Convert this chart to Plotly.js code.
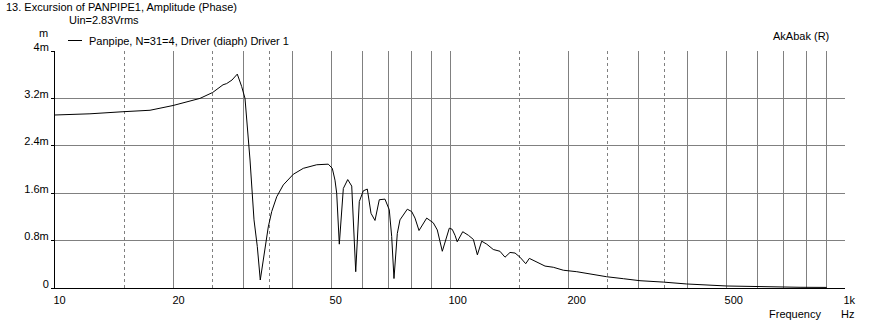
<!DOCTYPE html>
<html>
<head>
<meta charset="utf-8">
<script src="https://cdn.plot.ly/plotly-3.0.1.min.js"></script>
<style>html,body{margin:0;padding:0;background:#fff;}#chart{width:872px;height:326px;}</style>
</head>
<body>
<div id="chart"></div>
<script>
// Frequency (Hz)
const freq = [10.0, 12.26, 14.86, 17.4, 19.9, 23.28, 25.07, 26.63, 27.2, 28.06, 28.94, 29.69, 30.27,
  31.17, 31.9, 32.52, 33.09, 33.81, 34.67, 35.37, 36.42, 37.84, 40.12, 42.53, 45.98, 49.18,
  50.35, 51.15, 51.66, 52.45, 53.7, 55.09, 56.39, 57.72, 58.94, 60.33, 61.75, 63.1, 64.58,
  66.22, 68.45, 70.19, 71.18, 72.14, 73.55, 74.71, 77.97, 79.99, 81.55, 83.47, 87.3, 90.72,
  92.86, 95.61, 99.59, 101.3, 102.96, 104.3, 107.7, 111.3, 114.6, 117.3, 120.3, 123.9, 128.7,
  133.8, 137.8, 141.9, 146.1, 150.4, 155.5, 158.8, 165.8, 174.0, 182.6, 193.6, 209.4, 226.2,
  249.3, 274.7, 302.7, 346.7, 397.4, 501.7, 645.8, 769.4, 898.8];
// Excursion (mm)
const excursion = [2.92, 2.94, 2.975, 3.0, 3.08, 3.2, 3.3, 3.43, 3.45, 3.51, 3.61, 3.40, 3.20,
  2.16, 1.15, 0.70, 0.135, 0.59, 1.03, 1.29, 1.54, 1.74, 1.92, 2.02, 2.08, 2.09,
  2.02, 1.82, 1.60, 0.74, 1.68, 1.83, 1.72, 0.275, 1.46, 1.64, 1.67, 1.26, 1.14,
  1.49, 1.50, 1.32, 0.87, 0.16, 0.92, 1.15, 1.33, 1.29, 1.18, 0.97, 1.18, 1.10,
  0.98, 0.62, 1.01, 0.99, 0.89, 0.78, 0.95, 0.89, 0.82, 0.56, 0.79, 0.74, 0.65,
  0.62, 0.52, 0.60, 0.59, 0.52, 0.41, 0.50, 0.44, 0.37, 0.35, 0.30, 0.275, 0.236,
  0.19, 0.157, 0.123, 0.10, 0.068, 0.034, 0.017, 0.012, 0.01];

const xTickVals = [10, 20, 30, 40, 50, 60, 70, 80, 90, 100, 200, 300, 400, 500, 600, 700, 800, 900, 1000];
const xTickText = ['10', '20', '', '', '50', '', '', '', '', '100', '200', '', '', '500', '', '', '', '', '1k'];
const xMinorVals = [15, 25, 35, 150, 250, 350];
const yTickVals = [0, 0.8, 1.6, 2.4, 3.2, 4];
const yTickText = ['0', '0.8m', '1.6m', '2.4m', '3.2m', '4m'];

const titleText = '13. Excursion of PANPIPE1, Amplitude (Phase)';
const seriesName = 'Panpipe, N=31=4, Driver (diaph) Driver 1';

const FONT = 'Liberation Sans, Arial, sans-serif';
const GRID = '#808080';

const trace = {
  x: freq, y: excursion, type: 'scatter', mode: 'lines', name: seriesName,
  line: {color: '#000', width: 1}, showlegend: false, hoverinfo: 'skip'
};

const layout = {
  width: 872, height: 326,
  margin: {l: 55, r: 27, t: 51, b: 38},
  paper_bgcolor: '#fff', plot_bgcolor: '#fff',
  font: {family: FONT, size: 11, color: '#000'},
  title: {text: titleText, x: 6/872, xanchor: 'left', xref: 'container',
          y: 1 - 7/326, yanchor: 'middle', yref: 'container',
          font: {family: FONT, size: 11, color: '#000'}},
  xaxis: {
    type: 'log', range: [1, 3], tickmode: 'array', tickvals: xTickVals, ticktext: xTickText,
    showgrid: true, gridcolor: GRID, gridwidth: 1,
    showline: true, linecolor: '#000', linewidth: 1, ticks: '', zeroline: false,
    ticklabelposition: 'outside right', ticklabelshift: -2, ticklabelstandoff: 2,
    tickfont: {family: FONT, size: 11, color: '#000'},
    minor: {tickmode: 'array', tickvals: xMinorVals, showgrid: true, gridcolor: GRID,
            gridwidth: 1, griddash: '3px,3px', ticks: ''}
  },
  yaxis: {
    range: [0, 4], tickmode: 'array', tickvals: yTickVals, ticktext: yTickText,
    showgrid: true, gridcolor: GRID, gridwidth: 1,
    showline: true, linecolor: '#000', linewidth: 1, zeroline: false,
    ticks: 'outside', ticklen: 3, tickcolor: '#000',
    ticklabelposition: 'outside top', ticklabelshift: 4, ticklabelstandoff: 3,
    tickfont: {family: FONT, size: 11, color: '#000'}
  },
  shapes: [
    {type: 'line', xref: 'x', yref: 'paper', x0: 2, x1: 2, y0: 0, y1: 1, line: {color: '#000', width: 1}},
    {type: 'line', xref: 'x', yref: 'paper', x0: 3, x1: 3, y0: 0, y1: 1, line: {color: '#000', width: 1}},
    {type: 'line', xref: 'paper', yref: 'paper', x0: 13/790, x1: 27/790, y0: 247.5/237, y1: 247.5/237,
     line: {color: '#000', width: 1}}
  ],
  annotations: [
    {text: 'Uin=2.83Vrms', xref: 'paper', yref: 'paper', x: 12/790, y: 267.5/237,
     xanchor: 'left', yanchor: 'middle', showarrow: false},
    {text: seriesName, xref: 'paper', yref: 'paper', x: 32/790, y: 247.5/237,
     xanchor: 'left', yanchor: 'middle', showarrow: false},
    {text: 'm', xref: 'paper', yref: 'paper', x: -12/790, y: 255/237,
     xanchor: 'center', yanchor: 'middle', showarrow: false},
    {text: 'AkAbak (R)', xref: 'paper', yref: 'paper', x: 776/790, y: 252/237,
     xanchor: 'right', yanchor: 'middle', showarrow: false},
    {text: 'Frequency', xref: 'paper', yref: 'paper', x: 712/790, y: -26/237,
     xanchor: 'left', yanchor: 'middle', showarrow: false},
    {text: 'Hz', xref: 'paper', yref: 'paper', x: 784/790, y: -26/237,
     xanchor: 'left', yanchor: 'middle', showarrow: false}
  ]
};

Plotly.newPlot('chart', [trace], layout, {displayModeBar: false, staticPlot: true});
</script>
</body>
</html>
